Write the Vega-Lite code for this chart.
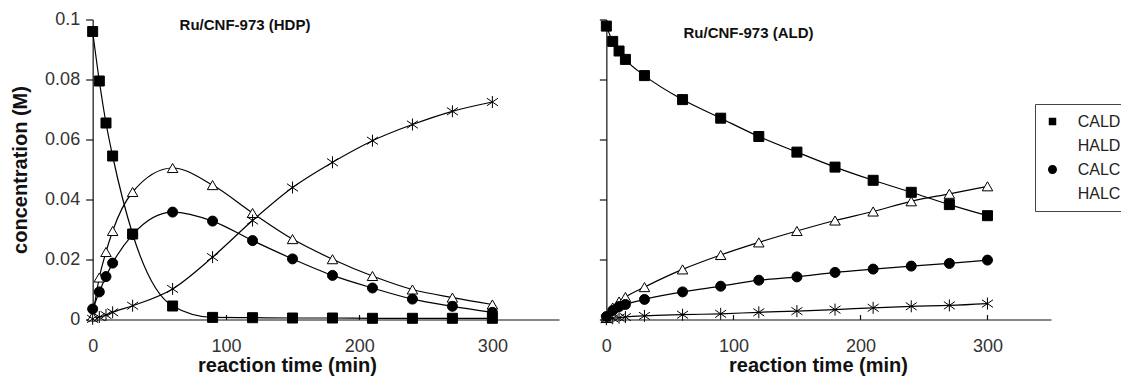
{
  "$schema": "https://vega.github.io/schema/vega-lite/v6.json",
  "padding": {"left": 10, "top": 10.5, "right": 0, "bottom": 0},
  "background": "white",
  "datasets": {
    "d": [
      {"p":"HDP","s":"CALD","t":0,"c":0.096},{"p":"HDP","s":"CALD","t":5,"c":0.0795},{"p":"HDP","s":"CALD","t":10,"c":0.0655},{"p":"HDP","s":"CALD","t":15,"c":0.0545},{"p":"HDP","s":"CALD","t":30,"c":0.0285},{"p":"HDP","s":"CALD","t":60,"c":0.0045},{"p":"HDP","s":"CALD","t":90,"c":0.0007},{"p":"HDP","s":"CALD","t":120,"c":0.0006},{"p":"HDP","s":"CALD","t":150,"c":0.0005},{"p":"HDP","s":"CALD","t":180,"c":0.0005},{"p":"HDP","s":"CALD","t":210,"c":0.0004},{"p":"HDP","s":"CALD","t":240,"c":0.0004},{"p":"HDP","s":"CALD","t":270,"c":0.0004},{"p":"HDP","s":"CALD","t":300,"c":0.0004},
      {"p":"HDP","s":"HALD","t":0,"c":0.001},{"p":"HDP","s":"HALD","t":5,"c":0.014},{"p":"HDP","s":"HALD","t":10,"c":0.0225},{"p":"HDP","s":"HALD","t":15,"c":0.0295},{"p":"HDP","s":"HALD","t":30,"c":0.0425},{"p":"HDP","s":"HALD","t":60,"c":0.0505},{"p":"HDP","s":"HALD","t":90,"c":0.0448},{"p":"HDP","s":"HALD","t":120,"c":0.0355},{"p":"HDP","s":"HALD","t":150,"c":0.0268},{"p":"HDP","s":"HALD","t":180,"c":0.0201},{"p":"HDP","s":"HALD","t":210,"c":0.0145},{"p":"HDP","s":"HALD","t":240,"c":0.01},{"p":"HDP","s":"HALD","t":270,"c":0.0073},{"p":"HDP","s":"HALD","t":300,"c":0.005},
      {"p":"HDP","s":"CALC","t":0,"c":0.0035},{"p":"HDP","s":"CALC","t":5,"c":0.0092},{"p":"HDP","s":"CALC","t":10,"c":0.0143},{"p":"HDP","s":"CALC","t":15,"c":0.0188},{"p":"HDP","s":"CALC","t":30,"c":0.0283},{"p":"HDP","s":"CALC","t":60,"c":0.0358},{"p":"HDP","s":"CALC","t":90,"c":0.0328},{"p":"HDP","s":"CALC","t":120,"c":0.0263},{"p":"HDP","s":"CALC","t":150,"c":0.0202},{"p":"HDP","s":"CALC","t":180,"c":0.0147},{"p":"HDP","s":"CALC","t":210,"c":0.0105},{"p":"HDP","s":"CALC","t":240,"c":0.0068},{"p":"HDP","s":"CALC","t":270,"c":0.0044},{"p":"HDP","s":"CALC","t":300,"c":0.0024},
      {"p":"HDP","s":"HALC","t":0,"c":0.0002},{"p":"HDP","s":"HALC","t":5,"c":0.0008},{"p":"HDP","s":"HALC","t":10,"c":0.0015},{"p":"HDP","s":"HALC","t":15,"c":0.0024},{"p":"HDP","s":"HALC","t":30,"c":0.0046},{"p":"HDP","s":"HALC","t":60,"c":0.0102},{"p":"HDP","s":"HALC","t":90,"c":0.0208},{"p":"HDP","s":"HALC","t":120,"c":0.033},{"p":"HDP","s":"HALC","t":150,"c":0.044},{"p":"HDP","s":"HALC","t":180,"c":0.0524},{"p":"HDP","s":"HALC","t":210,"c":0.0596},{"p":"HDP","s":"HALC","t":240,"c":0.065},{"p":"HDP","s":"HALC","t":270,"c":0.0694},{"p":"HDP","s":"HALC","t":300,"c":0.0725},
      {"p":"ALD","s":"CALD","t":0,"c":0.0978},{"p":"ALD","s":"CALD","t":5,"c":0.0927},{"p":"ALD","s":"CALD","t":10,"c":0.0895},{"p":"ALD","s":"CALD","t":15,"c":0.0867},{"p":"ALD","s":"CALD","t":30,"c":0.0813},{"p":"ALD","s":"CALD","t":60,"c":0.0733},{"p":"ALD","s":"CALD","t":90,"c":0.0671},{"p":"ALD","s":"CALD","t":120,"c":0.061},{"p":"ALD","s":"CALD","t":150,"c":0.0558},{"p":"ALD","s":"CALD","t":180,"c":0.0508},{"p":"ALD","s":"CALD","t":210,"c":0.0464},{"p":"ALD","s":"CALD","t":240,"c":0.0424},{"p":"ALD","s":"CALD","t":270,"c":0.0383},{"p":"ALD","s":"CALD","t":300,"c":0.0346},
      {"p":"ALD","s":"HALD","t":0,"c":0.0005},{"p":"ALD","s":"HALD","t":5,"c":0.004},{"p":"ALD","s":"HALD","t":10,"c":0.006},{"p":"ALD","s":"HALD","t":15,"c":0.0075},{"p":"ALD","s":"HALD","t":30,"c":0.0108},{"p":"ALD","s":"HALD","t":60,"c":0.0167},{"p":"ALD","s":"HALD","t":90,"c":0.0215},{"p":"ALD","s":"HALD","t":120,"c":0.0257},{"p":"ALD","s":"HALD","t":150,"c":0.0295},{"p":"ALD","s":"HALD","t":180,"c":0.033},{"p":"ALD","s":"HALD","t":210,"c":0.036},{"p":"ALD","s":"HALD","t":240,"c":0.0394},{"p":"ALD","s":"HALD","t":270,"c":0.0419},{"p":"ALD","s":"HALD","t":300,"c":0.0444},
      {"p":"ALD","s":"CALC","t":0,"c":0.001},{"p":"ALD","s":"CALC","t":5,"c":0.003},{"p":"ALD","s":"CALC","t":10,"c":0.0043},{"p":"ALD","s":"CALC","t":15,"c":0.005},{"p":"ALD","s":"CALC","t":30,"c":0.0067},{"p":"ALD","s":"CALC","t":60,"c":0.0092},{"p":"ALD","s":"CALC","t":90,"c":0.0111},{"p":"ALD","s":"CALC","t":120,"c":0.0131},{"p":"ALD","s":"CALC","t":150,"c":0.0142},{"p":"ALD","s":"CALC","t":180,"c":0.0157},{"p":"ALD","s":"CALC","t":210,"c":0.0168},{"p":"ALD","s":"CALC","t":240,"c":0.0178},{"p":"ALD","s":"CALC","t":270,"c":0.0187},{"p":"ALD","s":"CALC","t":300,"c":0.0198},
      {"p":"ALD","s":"HALC","t":0,"c":0.0001},{"p":"ALD","s":"HALC","t":5,"c":0.0004},{"p":"ALD","s":"HALC","t":10,"c":0.0006},{"p":"ALD","s":"HALC","t":15,"c":0.0008},{"p":"ALD","s":"HALC","t":30,"c":0.0012},{"p":"ALD","s":"HALC","t":60,"c":0.0016},{"p":"ALD","s":"HALC","t":90,"c":0.0019},{"p":"ALD","s":"HALC","t":120,"c":0.0024},{"p":"ALD","s":"HALC","t":150,"c":0.0028},{"p":"ALD","s":"HALC","t":180,"c":0.0033},{"p":"ALD","s":"HALC","t":210,"c":0.0039},{"p":"ALD","s":"HALC","t":240,"c":0.0044},{"p":"ALD","s":"HALC","t":270,"c":0.0047},{"p":"ALD","s":"HALC","t":300,"c":0.0053}
    ]
  },
  "config": {
    "font": "Liberation Sans",
    "view": {"stroke": null},
    "axis": {
      "grid": false,
      "domainColor": "#111",
      "tickColor": "#111",
      "domainWidth": 1.2,
      "tickWidth": 1.2,
      "labelColor": "#333",
      "labelFont": "Liberation Sans",
      "labelFontSize": 18,
      "titleFont": "Liberation Sans",
      "titleFontSize": 20,
      "titleFontWeight": "bold",
      "titleColor": "#111"
    },
    "legend": {
      "orient": "none",
      "legendX": 949,
      "legendY": 84.5,
      "strokeColor": "#444",
      "fillColor": "white",
      "padding": 8,
      "labelFont": "Liberation Sans",
      "labelFontSize": 16,
      "labelColor": "#222",
      "symbolSize": 289,
      "symbolOpacity": 1,
      "symbolStrokeColor": "black",
      "symbolStrokeWidth": 1.2,
      "rowPadding": 6,
      "labelOffset": 15.7
    },
    "title": {"font": "Liberation Sans", "fontSize": 15, "fontWeight": "bold", "color": "#111", "anchor": "middle", "frame": "group", "baseline": "alphabetic"}
  },
  "spacing": 39,
  "hconcat": [
    {
      "width": 473,
      "height": 300,
      "title": {"text": "Ru/CNF-973 (HDP)", "dx": -77.5, "offset": -22.5},
      "data": {"name": "d"},
      "transform": [{"filter": "datum.p === 'HDP'"}],
      "encoding": {
        "x": {"field": "t", "type": "quantitative", "scale": {"domain": [-5, 350], "nice": false, "zero": false},
              "axis": {"values": [0, 100, 200, 300], "tickSize": -5, "labelPadding": 22.5, "title": "reaction time (min)", "titleX": 201, "titlePadding": 0}},
        "y": {"field": "c", "type": "quantitative", "scale": {"domain": [0, 0.1], "nice": false},
              "axis": {"values": [0, 0.02, 0.04, 0.06, 0.08, 0.1], "format": "~g", "offset": -6.66, "tickSize": 7, "labelPadding": 6, "title": "concentration (M)", "titleX": -71.7, "titleBaseline": "middle"}}
      },
      "layer": [
        {"mark": {"type": "line", "interpolate": "monotone", "color": "black", "strokeWidth": 1.2},
         "encoding": {"detail": {"field": "s"}}},
        {"transform": [{"filter": "datum.s === 'CALD'"}],
         "mark": {"type": "point", "shape": "square", "size": 100, "fill": "black", "stroke": "black", "strokeWidth": 1, "opacity": 1, "fillOpacity": 1}},
        {"transform": [{"filter": "datum.s === 'HALD'"}],
         "mark": {"type": "point", "shape": "triangle-up", "size": 110, "fill": "white", "stroke": "black", "strokeWidth": 1, "opacity": 1, "fillOpacity": 1}},
        {"transform": [{"filter": "datum.s === 'CALC'"}],
         "mark": {"type": "point", "shape": "circle", "size": 100, "fill": "black", "stroke": "black", "strokeWidth": 1, "opacity": 1, "fillOpacity": 1}},
        {"transform": [{"filter": "datum.s === 'HALC'"}],
         "mark": {"type": "point", "shape": "M0,-1.2V1.2M-1.1,-0.75L1.1,0.75M-1.1,0.75L1.1,-0.75", "size": 100, "fill": "black", "stroke": "black", "strokeWidth": 1, "opacity": 1}},
        {"transform": [{"filter": "datum.t < 0"}],
         "mark": {"type": "point", "stroke": "black", "strokeWidth": 1.2, "opacity": 1, "fillOpacity": 1},
         "encoding": {
           "shape": {"field": "s", "type": "nominal", "title": null,
             "scale": {"domain": ["CALD", "HALD", "CALC", "HALC"], "range": [
               "M-0.9,0H0.9M-0.44,-0.44H0.44V0.44H-0.44Z",
               "M-0.9,0H-0.29M0.29,0H0.9M0,-0.5L0.55,0.45H-0.55Z",
               "M-0.9,0H0.9M0.53,0A0.53,0.53,0,1,1,-0.53,0A0.53,0.53,0,1,1,0.53,0Z",
               "M-0.9,0H0.9M0,-0.75V0.75M-0.6,-0.6L0.6,0.6M-0.6,0.6L0.6,-0.6"]}},
           "fill": {"field": "s", "type": "nominal", "title": null,
             "scale": {"domain": ["CALD", "HALD", "CALC", "HALC"], "range": ["black", "white", "black", "black"]}}
         }}
      ]
    },
    {
      "width": 451,
      "height": 300,
      "title": {"text": "Ru/CNF-973 (ALD)", "dx": -77, "offset": -22.5},
      "data": {"name": "d"},
      "transform": [{"filter": "datum.p === 'ALD'"}],
      "encoding": {
        "x": {"field": "t", "type": "quantitative", "scale": {"domain": [-5, 350], "nice": false, "zero": false},
              "axis": {"values": [0, 100, 200, 300], "tickSize": -5, "labelPadding": 22.5, "title": "reaction time (min)", "titleX": 218, "titlePadding": 0}},
        "y": {"field": "c", "type": "quantitative", "scale": {"domain": [0, 0.1], "nice": false},
              "axis": {"values": [0, 0.02, 0.04, 0.06, 0.08, 0.1], "labels": false, "offset": -6.35, "tickSize": 7, "title": null}}
      },
      "layer": [
        {"mark": {"type": "line", "interpolate": "monotone", "color": "black", "strokeWidth": 1.2},
         "encoding": {"detail": {"field": "s"}}},
        {"transform": [{"filter": "datum.s === 'CALD'"}],
         "mark": {"type": "point", "shape": "square", "size": 100, "fill": "black", "stroke": "black", "strokeWidth": 1, "opacity": 1, "fillOpacity": 1}},
        {"transform": [{"filter": "datum.s === 'HALD'"}],
         "mark": {"type": "point", "shape": "triangle-up", "size": 110, "fill": "white", "stroke": "black", "strokeWidth": 1, "opacity": 1, "fillOpacity": 1}},
        {"transform": [{"filter": "datum.s === 'CALC'"}],
         "mark": {"type": "point", "shape": "circle", "size": 100, "fill": "black", "stroke": "black", "strokeWidth": 1, "opacity": 1, "fillOpacity": 1}},
        {"transform": [{"filter": "datum.s === 'HALC'"}],
         "mark": {"type": "point", "shape": "M0,-1.2V1.2M-1.1,-0.75L1.1,0.75M-1.1,0.75L1.1,-0.75", "size": 100, "fill": "black", "stroke": "black", "strokeWidth": 1, "opacity": 1}}
      ]
    }
  ]
}
